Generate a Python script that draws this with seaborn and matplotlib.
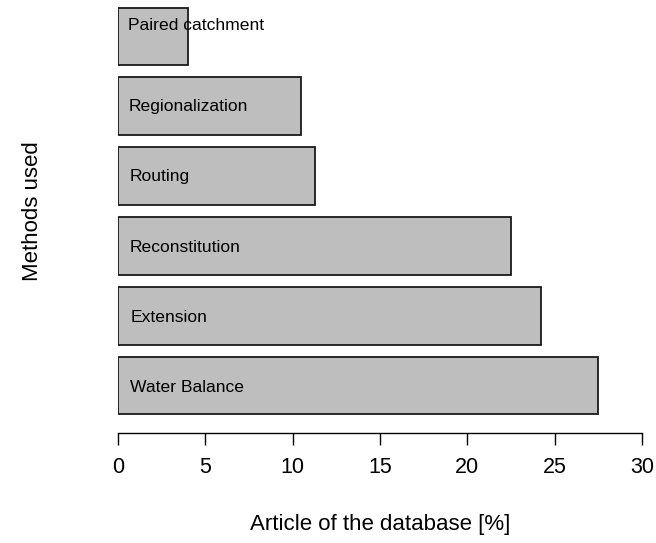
import matplotlib
matplotlib.use('Agg')
import matplotlib.pyplot as plt
import pandas as pd
import seaborn as sns

# Data (top to bottom)
methods = ['Paired catchment', 'Regionalization', 'Routing',
           'Reconstitution', 'Extension', 'Water Balance']
percent = [4.0, 10.5, 11.3, 22.5, 24.2, 27.5]
x_ticks = [0, 5, 10, 15, 20, 25, 30]

df = pd.DataFrame({'method': methods, 'percent': percent})

sns.set_style('white')
plt.rcParams['font.family'] = ['Liberation Sans', 'DejaVu Sans']
plt.rcParams['text.color'] = 'black'
plt.rcParams['axes.labelcolor'] = 'black'

fig = plt.figure(figsize=(6.56, 5.43), dpi=100)
ax = fig.add_axes([0.1799, 0.2258, 0.7988, 0.7713])

sns.barplot(data=df, x='percent', y='method', orient='h',
            color='#BEBEBE', saturation=1, edgecolor='#1a1a1a',
            linewidth=1.3, width=0.83, ax=ax)

# labels written inside the bars, like the original R barplot
label_dx = [0.55, 0.6, 0.65, 0.65, 0.75, 0.7]
label_dy = [-0.16, 0.0, 0.01, 0.03, 0.03, 0.03]
for i, name in enumerate(methods):
    ax.text(label_dx[i], i + label_dy[i], name, ha='left', va='center',
            fontsize=12.6, color='black')

ax.set_xlim(0, 30)
ax.set_ylim(5.5, -0.5)
ax.set_xticks(x_ticks)
ax.set_xticklabels([str(t) for t in x_ticks])
ax.set_yticks([])

for side in ['top', 'right', 'left']:
    ax.spines[side].set_visible(False)
ax.spines['bottom'].set_position(('outward', 9))
ax.spines['bottom'].set_color('black')
ax.spines['bottom'].set_linewidth(1.0)
ax.tick_params(axis='x', direction='out', length=8.5, width=1.0,
               colors='black', labelsize=15.5, pad=8.5, bottom=True)

ax.set_xlabel('Article of the database [%]', fontsize=16, labelpad=26,
              color='black')
ax.set_ylabel('Methods used', fontsize=16, va='center', color='black')
ax.yaxis.set_label_coords(-0.164, 0.5)

fig.savefig('out.png', dpi=100)
